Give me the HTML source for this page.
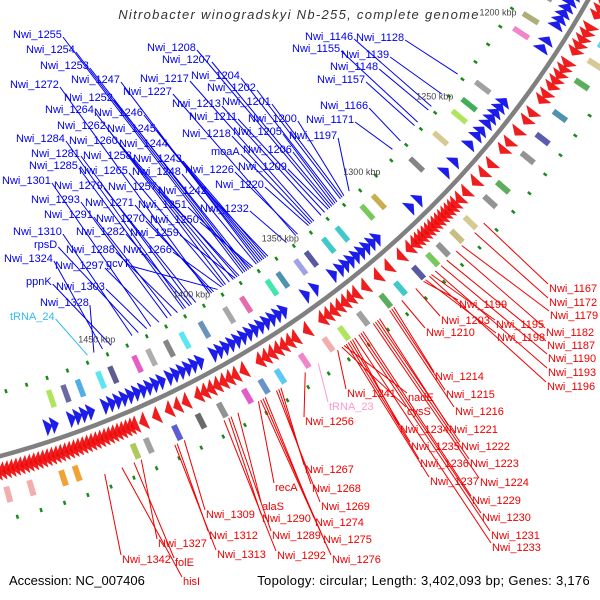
<!DOCTYPE html>
<html><head><meta charset="utf-8"><style>
html,body{margin:0;padding:0;background:#fff;}
svg{display:block;font-family:"Liberation Sans",sans-serif;}
</style></head><body>
<svg id="chart" width="600" height="600" viewBox="0 0 600 600">
<rect x="0" y="0" width="600" height="600" fill="#fff"/>
<g id="ticks"></g>
<g id="cogs"></g>
<g id="genes"></g>
<path id="backbone" fill="none" stroke="#808080" stroke-width="4.5"/>
<g id="lines"></g>
<g id="labels"></g>
<g id="kbp"></g>
<text x="299" y="19" text-anchor="middle" font-size="13" letter-spacing="1.3" font-style="italic" fill="#333">Nitrobacter winogradskyi Nb-255, complete genome</text>
<text x="9" y="585" font-size="13" fill="#000">Accession: NC_007406</text>
<text x="590" y="585" text-anchor="end" font-size="13" letter-spacing="0.3" fill="#000">Topology: circular; Length: 3,402,093 bp; Genes: 3,176</text>
</svg>
<script>
// ---- data ----
const tickKbp = [1200,1250,1300,1350,1400,1450];
const forwardGenes = [1150,1153,1156,1160,1163,1172,1175,1178,1181,1184,1187,1195,1199,1228,1231,1234,1237,1240,1244,1247,1252,1262,1268,1285,1290,1310,1313,1316,1319,1322,1325,1328,1331,1335,1345,1350,1362,1365,1368,1371,1374,1377,1380,1383,1386,1389,1392,1395,1398,1405,1408,1411,1414,1417,1420,1424,1427,1430,1433,1436,1439,1442,1445,1448,1451,1458,1461,1464,1467,1475,1478];
const reverseGenes = [1145,1148,1151,1154,1157,1160,1163,1166,1169,1172,1178,1181,1184,1187,1190,1196,1199,1202,1205,1208,1212,1215,1222,1226,1232,1238,1242,1250,1255,1260,1266,1270,1273,1275,1277,1279,1281,1283,1285,1287,1289,1291,1293,1295,1297,1300,1305,1312,1318,1325,1330,1333,1336,1339,1342,1345,1348,1356,1362,1365,1368,1371,1374,1377,1380,1388,1392,1395,1398,1401,1404,1407,1410,1416,1420,1424,1430,1436,1440,1442,1444,1446,1448,1450,1452,1454,1456,1458,1460,1462,1464,1466,1468,1470,1472,1474,1476,1478,1480,1482,1484,1486,1488,1490,1492,1494,1496,1498,1500,1502,1504,1506,1508,1510,1512,1514];
const innerCogKbp = [1168,1176,1188,1196,1226,1236,1243,1256,1272,1296,1303,1318,1326,1336,1342,1352,1358,1372,1381,1394,1404,1412,1421,1428,1440,1446,1456,1463,1470];
const innerCogColor = ["#6aa040","#888888","#a0a060","#f070c0","#909090","#20a040","#a0e040","#d0c080","#707070","#c0a030","#60c040","#20c0c0","#20c0c0","#3c3c90","#9090e0","#3080a0","#20e0a0","#e050a0","#999999","#5080b0","#40e0f0","#707070","#a0a0a0","#e040c0","#404080","#40e0f0","#30a0e0","#505090","#a0e040"];
const outerCogKbp = [1182,1190,1200,1216,1228,1238,1254,1262,1274,1282,1290,1296,1304,1314,1322,1334,1344,1352,1364,1376,1384,1392,1404,1414,1425,1438,1444,1470,1476,1490,1500,1506,1512];
const outerCogColor = ["#40d0f0","#d0c080","#40a040","#3080a0","#4040a0","#808080","#40a040","#808080","#d0c080","#c0b070","#808080","#60c040","#3c3c90","#20c0c0","#40a040","#909090","#a0e040","#f0a0a0","#f070c0","#40c0f0","#5080c0","#e040c0","#808080","#505050","#4040d0","#909090","#a0c040","#f09010","#f09010","#f0a0a0","#f0a0a0","#a0e040","#40c0f0"];
const blueNames = ["Nwi_1255","Nwi_1254","Nwi_1253","Nwi_1272","Nwi_1247","Nwi_1252","Nwi_1264","Nwi_1246","Nwi_1262","Nwi_1245","Nwi_1284","Nwi_1260","Nwi_1244","Nwi_1281","Nwi_1258","Nwi_1243","Nwi_1285","Nwi_1265","Nwi_1248","Nwi_1301","Nwi_1279","Nwi_1257","Nwi_1242","Nwi_1293","Nwi_1271","Nwi_1251","Nwi_1291","Nwi_1270","Nwi_1250","Nwi_1310","Nwi_1282","Nwi_1259","rpsD","Nwi_1288","Nwi_1266","Nwi_1324","Nwi_1297","gcvT","ppnK","Nwi_1303","Nwi_1328","tRNA_24","Nwi_1208","Nwi_1207","Nwi_1217","Nwi_1204","Nwi_1227","Nwi_1202","Nwi_1213","Nwi_1201","Nwi_1211","Nwi_1200","Nwi_1218","Nwi_1205","Nwi_1197","moaA","Nwi_1206","Nwi_1226","Nwi_1209","Nwi_1220","Nwi_1232","Nwi_1146","Nwi_1128","Nwi_1155","Nwi_1139","Nwi_1148","Nwi_1157","Nwi_1166","Nwi_1171"];
const blueLocus = [1255,1254,1253,1272,1247,1252,1264,1246,1262,1245,1284,1260,1244,1281,1258,1243,1285,1265,1248,1301,1279,1257,1242,1293,1271,1251,1291,1270,1250,1310,1282,1259,1307,1288,1266,1324,1297,1268,1320,1303,1328,1331,1208,1207,1217,1204,1227,1202,1213,1201,1211,1200,1218,1205,1197,1219,1206,1226,1209,1220,1232,1146,1128,1155,1139,1148,1157,1166,1171];
const blueX = [13,26,40,10,71,64,45,94,57,107,16,69,119,31,83,133,29,79,132,2,54,108,158,31,85,138,44,96,150,13,76,130,34,66,123,4,55,106,26,56,40,10,147,162,140,191,123,207,172,222,189,248,182,233,289,211,243,185,238,215,200,305,356,292,341,330,317,320,306];
const blueY = [34,49,65,84,79,97,109,112,125,128,138,140,143,153,155,158,165,170,171,180,185,186,190,199,202,204,214,218,219,231,231,232,244,249,249,258,265,263,281,286,302,316,47,59,78,75,91,87,103,101,116,118,133,131,135,151,149,169,166,184,208,36,37,48,54,66,79,105,119];
const redNames = ["Nwi_1167","Nwi_1172","Nwi_1179","Nwi_1199","Nwi_1203","Nwi_1195","Nwi_1182","Nwi_1210","Nwi_1198","Nwi_1187","Nwi_1190","Nwi_1193","Nwi_1196","Nwi_1214","Nwi_1215","Nwi_1241","nadE","tRNA_23","Nwi_1216","cysS","Nwi_1256","Nwi_1234","Nwi_1221","Nwi_1235","Nwi_1222","Nwi_1223","Nwi_1236","Nwi_1237","Nwi_1224","Nwi_1229","Nwi_1230","Nwi_1231","Nwi_1233","Nwi_1267","Nwi_1268","Nwi_1269","Nwi_1274","Nwi_1275","Nwi_1276","Nwi_1292","Nwi_1289","Nwi_1290","alaS","recA","Nwi_1309","Nwi_1312","Nwi_1313","Nwi_1327","Nwi_1342","folE","hisI"];
const redLocus = [1167,1172,1179,1199,1203,1195,1182,1210,1198,1187,1190,1193,1196,1214,1215,1241,1238,1250,1216,1239,1256,1234,1221,1235,1222,1223,1236,1237,1224,1229,1230,1231,1233,1267,1268,1269,1274,1275,1276,1292,1289,1290,1286,1277,1309,1312,1313,1327,1342,1330,1335];
const redX = [549,549,550,459,441,496,546,426,497,547,548,548,547,435,446,347,408,329,455,407,305,400,449,411,461,470,420,430,480,472,482,491,492,305,312,321,315,323,332,277,272,262,262,275,206,209,217,158,122,175,183];
const redY = [288,302,315,304,320,324,332,332,337,345,358,372,386,376,394,393,397,406,411,411,421,429,429,446,446,463,463,481,482,500,517,535,547,469,488,506,522,539,559,555,535,518,506,487,514,535,554,543,559,562,581];

// ---- axis functions ----
const CX = -249, CY = -472, R = 961;
function angOf(kbp){ return (47.4 + (kbp - 1300) * 0.1376) * Math.PI / 180; }
function pt(kbp, r){ const a = angOf(kbp); return [CX + r * Math.cos(a), CY + r * Math.sin(a)]; }
function locusToKbp(n){ return 1304 + (n - 1197) * 1.08; }
const NS = "http://www.w3.org/2000/svg";
function mk(tag, attrs, parent){ const e = document.createElementNS(NS, tag); for (const k in attrs) e.setAttribute(k, attrs[k]); parent.appendChild(e); return e; }
function arcPath(k0, k1, r){ const a = pt(k0, r), b = pt(k1, r); return "M" + a[0].toFixed(1) + "," + a[1].toFixed(1) + " A" + r + "," + r + " 0 0 1 " + b[0].toFixed(1) + "," + b[1].toFixed(1); }

document.getElementById("backbone").setAttribute("d", arcPath(1120, 1540, R));

// tick dots every 10 kbp
const gT = document.getElementById("ticks");
for (let k = 1130; k <= 1530; k += 10) {
  for (const r of [898, 1022]) {
    const p = pt(k, r), q = pt(k, r + 4);
    const l = mk("line", {x1:p[0], y1:p[1], x2:q[0], y2:q[1], stroke:"#1a8a1a", "stroke-width":2.5}, gT);
    
    
  }
}

// genes
const gG = document.getElementById("genes");
function arrow(k, r1, r2, dir, color){
  const len = 3.2;
  const a = pt(k, r1), b = pt(k, r2), t = pt(k + dir * len, (r1 + r2) / 2);
  return mk("polygon", {points: a.join(",") + " " + b.join(",") + " " + t.join(","), fill: color, stroke: color, "stroke-width": 0.4, "fill-opacity": 0.92}, gG);
}
forwardGenes.forEach(k => {
  const e = arrow(k, 938, 955, -1, "#0a0ae8");
  
  
});
reverseGenes.forEach(k => {
  const e = arrow(k, 967, 985, 1, "#ee0a0a");
  
  
});

// COG boxes
const gC = document.getElementById("cogs");
function box(k, w, r1, r2, color){
  const a = pt(k, r1), b = pt(k + w, r1), c = pt(k + w, r2), d = pt(k, r2);
  return mk("polygon", {points: [a, b, c, d].map(p => p.join(",")).join(" "), fill: color, "fill-opacity": 0.85}, gC);
}
innerCogKbp.forEach((k, i) => {
  const e = box(k, 2.5, 912, 930, innerCogColor[i]);
  
  
});
outerCogKbp.forEach((k, i) => {
  const e = box(k, 2.5, 992, 1008, outerCogColor[i]);
  
  
});

// kbp labels
const gK = document.getElementById("kbp");
tickKbp.forEach(k => {
  const p = pt(k, 875);
  const t = mk("text", {x: p[0].toFixed(1), y: (p[1] + 3).toFixed(1), "font-size": 9, fill: "#444"}, gK);
  t.textContent = k + " kbp";
  
  
});

// labels + lines
const gL = document.getElementById("lines"), gX = document.getElementById("labels");
blueNames.forEach((n, i) => {
  const col = n.startsWith("tRNA") ? "#33bbee" : "#0000ee";
  const t = mk("text", {x: blueX[i], y: blueY[i] + 4, "font-size": 11, fill: col}, gX);
  t.textContent = n;
  
  
  const w = t.getComputedTextLength();
  const e = pt(locusToKbp(blueLocus[i]), 893);
  const l = mk("line", {x1: blueX[i] + w + 1, y1: blueY[i] + 3, x2: e[0], y2: e[1], stroke: col, "stroke-width": 1}, gL);
  
  
});
redNames.forEach((n, i) => {
  const col = n.startsWith("tRNA") ? "#ff99cc" : "#ee0000";
  const t = mk("text", {x: redX[i], y: redY[i] + 4, "font-size": 11, fill: col}, gX);
  t.textContent = n;
  
  
  const e = pt(locusToKbp(redLocus[i]), 1010);
  const l = mk("line", {x1: redX[i] - 1, y1: redY[i] - 4, x2: e[0], y2: e[1], stroke: col, "stroke-width": 1}, gL);
  
  
});
</script>
</body></html>
